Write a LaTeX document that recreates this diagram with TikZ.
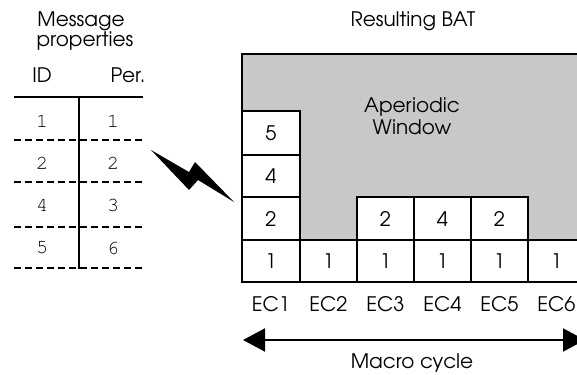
\documentclass[tikz,border=0pt]{standalone}
\usepackage[T1]{fontenc}
\newcommand\gothic{\usefont{T1}{pag}{m}{n}}
\newcommand\courfont{\usefont{T1}{pcr}{m}{n}}
\usetikzlibrary{arrows.meta}
\definecolor{windowgray}{RGB}{200,200,200}
\begin{document}
\begin{tikzpicture}[x=1pt,y=-1pt,
  lbl/.style={font=\gothic\fontsize{20}{22}\selectfont, inner sep=0pt},
  lblb/.style={lbl, anchor=base},
  num/.style={font=\courfont\fontsize{20}{20}\selectfont, inner sep=0pt},
  slot/.style={draw=black, line width=2.6pt, fill=white},
  rowline/.style={line width=2pt, dash pattern=on 7pt off 4pt},
  bolt/.style={fill=black}]
\useasboundingbox (0,0) rectangle (577,374);
\clip (0,0) rectangle (577,374);

% ---- message table ----
\node[lblb] (msg) at (81,27) {Message};
\node[lblb] (prop) at (85,47) {properties};
\node[lblb] (hid) at (42,83) {ID};
\node[lblb] (hper) at (128,83) {Per.};
\coordinate (tl) at (14,97);
\coordinate (tr) at (143,97);
\draw[line width=2pt] (tl) -- (tr);
\coordinate (vtop) at (79,97);
\coordinate (vbot) at (79,269);
\draw[line width=2pt] (vtop) -- (vbot);
\foreach \yy in {140,182,227,268}
  \draw[rowline] (14,\yy) -- (143,\yy);
\foreach \id/\per/\yy in {1/1/121, 2/2/163, 4/3/205, 5/6/248} {
  \node[num] (id\id) at (42,\yy) {\id};
  \node[num] (per\id) at (113,\yy) {\per};
}

% ---- lightning bolt ----
\fill[bolt] (151,150) -- (189,172) -- (195,162) -- (234,202) -- (198,180) -- (189,190) -- cycle;

% ---- BAT ----
\node[lblb] (bat) at (413,27) {Resulting BAT};
\filldraw[fill=windowgray, draw=black, line width=2.6pt] (242,54) rectangle (640,240);
\node[lblb] (aw1) at (412,113) {Aperiodic};
\node[lblb] (aw2) at (412,135) {Window};

% stacked slots in EC1
\draw[slot] (242,111) rectangle (300,155);
\draw[slot] (242,155) rectangle (300,197);
\draw[slot] (242,197) rectangle (300,240);
\node[lbl] (s5) at (271,133) {5};
\node[lbl] (s4) at (271,176) {4};
\node[lbl] (s2a) at (271,219) {2};
% slots in EC3..EC5
\draw[slot] (357,197) rectangle (414,240);
\draw[slot] (414,197) rectangle (471,240);
\draw[slot] (471,197) rectangle (528,240);
\node[lbl] (s2b) at (385.5,219) {2};
\node[lbl] (s4b) at (442.5,219) {4};
\node[lbl] (s2c) at (499.5,219) {2};
% bottom row of ones and EC labels
\foreach \i/\xl/\xr in {1/242/300, 2/300/357, 3/357/414, 4/414/471, 5/471/528, 6/528/585} {
  \draw[slot] (\xl,240) rectangle (\xr,282);
  \node[lbl] (one\i) at ({(\xl+\xr)/2},261.5) {1};
  \node[lblb] (ec\i) at ({(\xl+\xr)/2},311) {EC\i};
}

% macro cycle arrow
\coordinate (mcl) at (243,340);
\coordinate (mcr) at (585,340);
\draw[line width=2pt, {Triangle[length=22pt,width=23pt]}-{Triangle[length=22pt,width=23pt]}] (mcl) -- (mcr);
\node[lblb] (mc) at (412,368) {Macro cycle};
\end{tikzpicture}
\end{document}
